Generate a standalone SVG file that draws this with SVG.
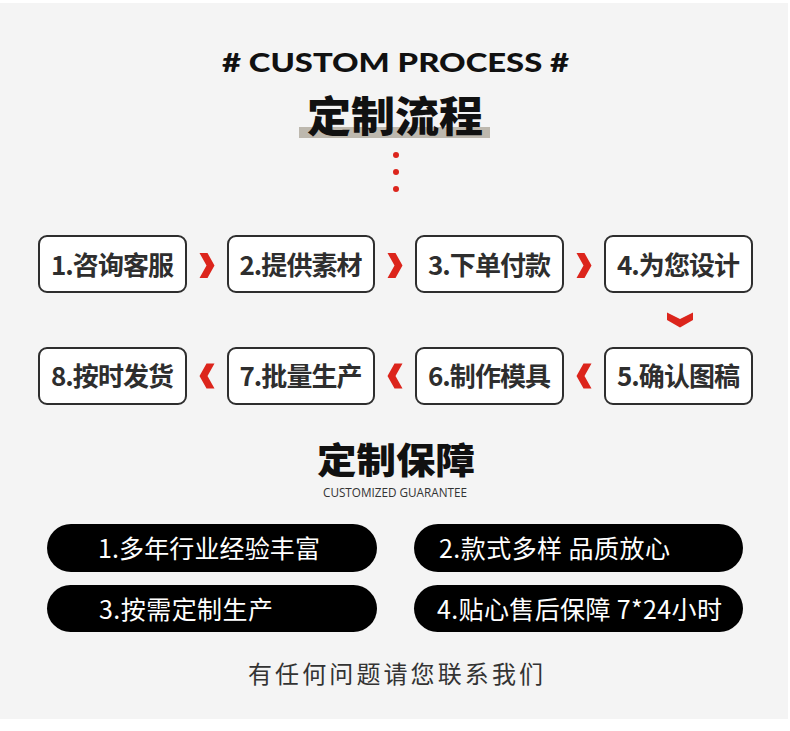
<svg xmlns="http://www.w3.org/2000/svg" width="790" height="731" viewBox="0 0 790 731">
<defs>
<style>
.box{fill:#fff;stroke:#2e2e2e;stroke-width:2}
.bt{font-family:"Noto Sans CJK SC","Noto Sans",sans-serif;font-weight:700;font-size:26px;fill:#2e2e2e;text-anchor:middle}
.pill{fill:#000}
.pt{font-family:"Noto Sans CJK SC","Noto Sans",sans-serif;font-weight:400;font-size:25px;fill:#fff}
.red{fill:#dc251c}
</style>
<polygon id="chR" points="-7.5,-12.5 0.5,-12.5 7.5,0 0.5,12.5 -7.5,12.5 -0.5,0"/>
<polygon id="chL" points="7.5,-12.5 -0.5,-12.5 -7.5,0 -0.5,12.5 7.5,12.5 0.5,0"/>
<polygon id="chD" points="-13,-7.5 0,-1 13,-7.5 13,0 0,7.5 -13,0"/>
</defs>
<rect x="0" y="0" width="790" height="731" fill="#ffffff"/>
<rect x="0" y="3" width="788" height="716" fill="#f4f4f4"/>

<g id="title">
<text x="395.5" y="72" font-family="Lato,'Noto Sans',sans-serif" font-weight="900" font-size="26" fill="#111" text-anchor="middle" textLength="347" lengthAdjust="spacingAndGlyphs"># CUSTOM PROCESS #</text>
<rect x="299" y="127" width="191" height="11" fill="#bdb8ae"/>
<text x="395" y="132" font-family="'Noto Sans CJK SC',sans-serif" font-weight="900" font-size="42" fill="#111" text-anchor="middle" textLength="176" lengthAdjust="spacingAndGlyphs">定制流程</text>
<circle class="red" cx="396" cy="155" r="3"/>
<circle class="red" cx="396" cy="172" r="3"/>
<circle class="red" cx="396" cy="189" r="3"/>
</g>

<g id="n1"><rect class="box" x="39" y="236" width="147" height="56" rx="8"/><text class="bt" x="112.5" y="275" textLength="123">1.咨询客服</text></g>
<g id="n2"><rect class="box" x="228" y="236" width="146" height="56" rx="8"/><text class="bt" x="301" y="275" textLength="123">2.提供素材</text></g>
<g id="n3"><rect class="box" x="416" y="236" width="147" height="56" rx="8"/><text class="bt" x="489.5" y="275" textLength="123">3.下单付款</text></g>
<g id="n4"><rect class="box" x="605" y="236" width="147" height="56" rx="8"/><text class="bt" x="678.5" y="275" textLength="123">4.为您设计</text></g>
<g id="n5"><rect class="box" x="605" y="348" width="147" height="56" rx="8"/><text class="bt" x="678.5" y="386" textLength="123">5.确认图稿</text></g>
<g id="n6"><rect class="box" x="416" y="348" width="147" height="56" rx="8"/><text class="bt" x="489.5" y="386" textLength="123">6.制作模具</text></g>
<g id="n7"><rect class="box" x="228" y="348" width="146" height="56" rx="8"/><text class="bt" x="301" y="386" textLength="123">7.批量生产</text></g>
<g id="n8"><rect class="box" x="39" y="348" width="147" height="56" rx="8"/><text class="bt" x="112.5" y="386" textLength="123">8.按时发货</text></g>

<g id="connectors" class="red">
<use href="#chR" x="207" y="265.5"/>
<use href="#chR" x="395" y="265.5"/>
<use href="#chR" x="584" y="265.5"/>
<use href="#chD" x="680" y="320"/>
<use href="#chL" x="584" y="376"/>
<use href="#chL" x="395" y="376"/>
<use href="#chL" x="207" y="376"/>
</g>

<g id="guarantee">
<text x="396" y="474" font-family="'Noto Sans CJK SC',sans-serif" font-weight="900" font-size="36" fill="#111" text-anchor="middle" textLength="158" lengthAdjust="spacingAndGlyphs">定制保障</text>
<text x="395" y="497" font-family="'Open Sans','Noto Sans',sans-serif" font-weight="400" font-size="12" fill="#333" text-anchor="middle" textLength="144" lengthAdjust="spacingAndGlyphs">CUSTOMIZED GUARANTEE</text>
</g>

<g id="p1"><rect class="pill" x="47" y="524" width="330" height="48" rx="24"/><text class="pt" x="98" y="558" textLength="222">1.多年行业经验丰富</text></g>
<g id="p2"><rect class="pill" x="414" y="524" width="329" height="48" rx="24"/><text class="pt" x="439" y="558" textLength="231">2.款式多样 品质放心</text></g>
<g id="p3"><rect class="pill" x="47" y="585" width="330" height="47" rx="23.5"/><text class="pt" x="99" y="618.5" textLength="174">3.按需定制生产</text></g>
<g id="p4"><rect class="pill" x="414" y="585" width="329" height="47" rx="23.5"/><text class="pt" x="437" y="618.5" textLength="285">4.贴心售后保障 7*24小时</text></g>

<g id="footer">
<text x="395.5" y="683" font-family="'Noto Sans CJK SC',sans-serif" font-weight="400" font-size="24" fill="#333" text-anchor="middle" textLength="295">有任何问题请您联系我们</text>
</g>
</svg>
